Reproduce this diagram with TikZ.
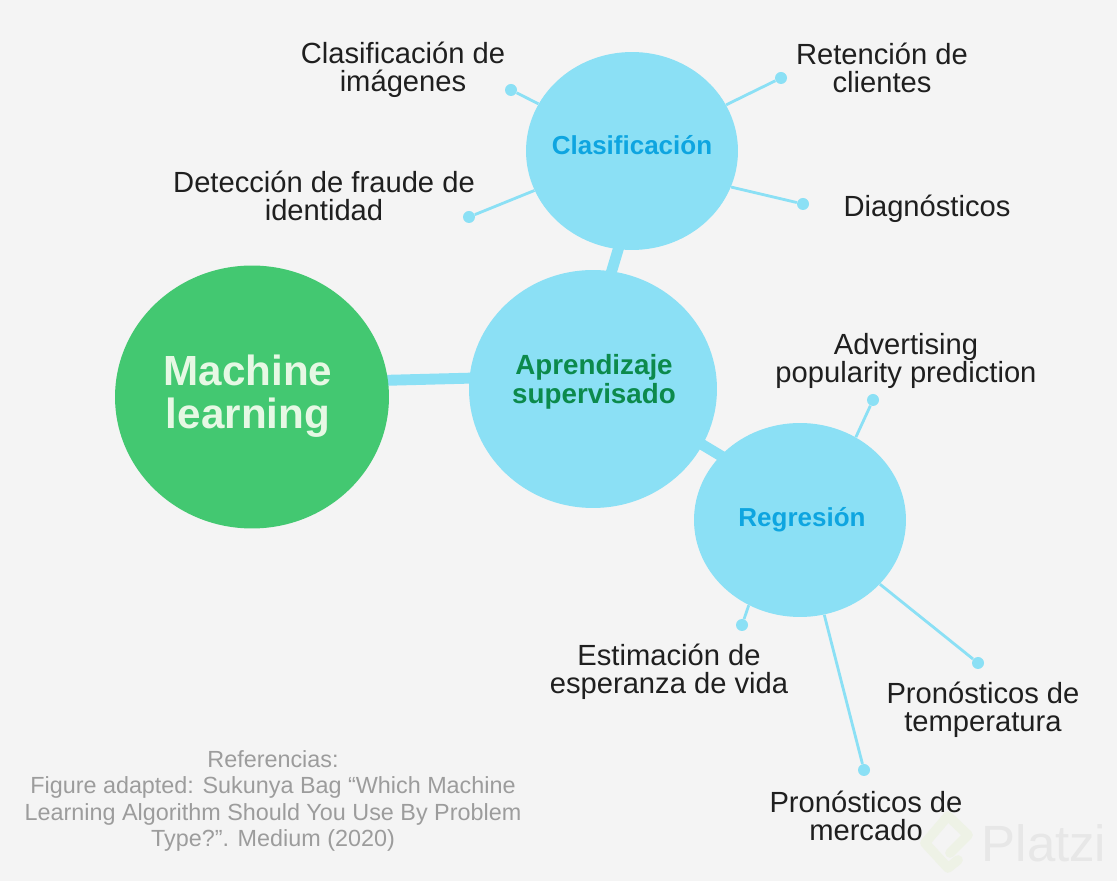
\documentclass[tikz,border=0pt]{standalone}
\usepackage{fontspec}
\setmainfont{Liberation Sans}
\usetikzlibrary{shapes.geometric,backgrounds}

\definecolor{fondo}{HTML}{F4F4F4}
\definecolor{celeste}{HTML}{8BE0F5}
\definecolor{verde}{HTML}{43C871}
\definecolor{verdeosc}{HTML}{0C8A4C}
\definecolor{azul}{HTML}{0EA5E0}
\definecolor{claro}{HTML}{E6F8E4}
\definecolor{gris}{HTML}{9C9C9C}
\definecolor{marca}{HTML}{EEF2E6}
\definecolor{marcatxt}{HTML}{E7E7E7}

\tikzset{
  bola/.style={ellipse,fill=celeste,inner sep=0pt,align=center},
  punto/.style={circle,fill=celeste,inner sep=0pt,minimum size=0.24cm},
  rama/.style={draw=celeste,line width=1.6pt},
  tronco/.style={draw=celeste,line width=6.2pt,shorten <=-6pt,shorten >=-6pt},
  etiqueta/.style={align=center,text=black!88,inner sep=0pt,
    font=\fontsize{16.6}{16.2}\selectfont},
  titulo/.style={font=\bfseries\fontsize{14.8}{15.4}\selectfont},
}

\begin{document}
\begin{tikzpicture}[x=0.02cm,y=-0.02cm]

\useasboundingbox (0,0) rectangle (1117,881);

% Centro
\node[ellipse,fill=verde,inner sep=0pt,minimum width=5.48cm,minimum height=5.26cm]
  (machine) at (252,397) {};
\node[align=center,text=claro,inner sep=0pt,font=\bfseries\fontsize{24}{24.5}\selectfont]
  (tmachine) at (248,396) {Machine\\learning};
\node[bola,minimum width=4.96cm,minimum height=4.76cm]
  (aprendizaje) at (593,389) {};
\node[align=center,text=verdeosc,inner sep=0pt,font=\bfseries\fontsize{15.8}{16.2}\selectfont]
  (taprend) at (594,382) {Aprendizaje\\supervisado};
\node[bola,minimum width=4.24cm,minimum height=3.96cm]
  (clasificacion) at (632,151) {};
\node[text=azul,titulo] (tclasif) at (632,145) {Clasificación};
\node[bola,minimum width=4.24cm,minimum height=3.88cm]
  (regresion) at (800,520) {};
\node[text=azul,titulo] (tregre) at (802,520) {Regresión};

% Puntos
\foreach \n/\x/\y in {
a/511/90,b/781/78,
c/469/217,d/803/204,
e/873/400,f/742/625,
g/978/663,h/864/770
}
{
\node[punto] (\n) at (\x,\y) {};
}

% Ramas
\begin{scope}[on background layer]
\fill[fondo] (0,0) rectangle (1117,881);
\draw[tronco] (machine.7.5) -- (aprendizaje.175.5);
\draw[tronco] (clasificacion.-98) -- (aprendizaje.81);
\draw[tronco] (aprendizaje.-27) -- (regresion.141);
\foreach \n in {a,b,c}
{
\draw[rama] (clasificacion) -- (\n);
}
\draw[rama] (clasificacion.-20) -- (d);
\draw[rama] (regresion.56) -- (e);
\draw[rama] (regresion.-121) -- (f);
\draw[rama] (regresion) -- (g);
\draw[rama] (regresion) -- (h);

% Marca
\draw[marca,line width=5.5pt,line join=round,line cap=round]
  (958,860) -- (948,868) -- (925,843) -- (948,816) -- (968,835) -- (950,853);
\node[text=marcatxt,inner sep=0pt,font=\fontsize{29}{30}\selectfont] (platzi) at (1044,843) {Platzi};
\end{scope}

% Textos
\node[etiqueta] (t1) at (403,70) {Clasificación de\\imágenes};
\node[etiqueta] (t2) at (882,68) {Retención de\\clientes};
\node[etiqueta] (t3) at (324,196) {Detección de fraude de\\identidad};
\node[etiqueta] (t4) at (927,209) {Diagnósticos};
\node[etiqueta] (t5) at (906,361) {Advertising\\popularity prediction};
\node[etiqueta] (t6) at (669,672) {Estimación de\\esperanza de vida};
\node[etiqueta] (t7) at (983,710) {Pronósticos de\\temperatura};
\node[etiqueta] (t8) at (866,816) {Pronósticos de\\mercado};

% Referencias
\node[align=center,text=gris,inner sep=0pt,font=\fontsize{13.3}{15.1}\selectfont]
  (ref) at (273,801) {Referencias:\\Figure adapted: Sukunya Bag “Which Machine\\Learning Algorithm Should You Use By Problem\\Type?”. Medium (2020)};

\end{tikzpicture}
\end{document}
